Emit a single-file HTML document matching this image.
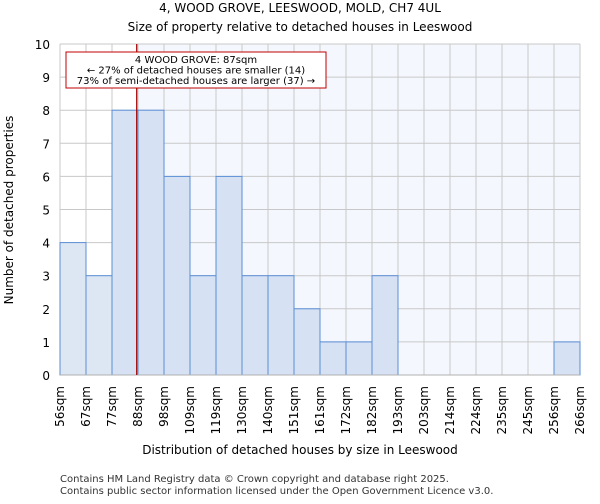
<!DOCTYPE html>
<html><head><meta charset="utf-8"><style>
body{margin:0;background:#fff;font-family:"DejaVu Sans","Liberation Sans",sans-serif;}
</style></head><body>
<svg id="c" width="600" height="500" xmlns="http://www.w3.org/2000/svg" font-family="DejaVu Sans, Liberation Sans, sans-serif">
<text x="300" y="12" text-anchor="middle" font-size="12">4, WOOD GROVE, LEESWOOD, MOLD, CH7 4UL</text>
<text x="300" y="31" text-anchor="middle" font-size="12">Size of property relative to detached houses in Leeswood</text>
<text x="300" y="454" text-anchor="middle" font-size="12">Distribution of detached houses by size in Leeswood</text>
<text transform="translate(13,210) rotate(-90)" text-anchor="middle" font-size="12">Number of detached properties</text>
<text x="60" y="482" font-size="10" fill="#333">Contains HM Land Registry data © Crown copyright and database right 2025.</text>
<text x="60" y="494" font-size="10" fill="#333">Contains public sector information licensed under the Open Government Licence v3.0.</text>
<g id="plot"></g>
</svg>
<script>
const categories=["56sqm","67sqm","77sqm","88sqm","98sqm","109sqm","119sqm","130sqm","140sqm","151sqm","161sqm","172sqm","182sqm","193sqm","203sqm","214sqm","224sqm","235sqm","245sqm","256sqm","266sqm"];
const counts=[4,3,8,8,6,3,6,3,3,2,1,1,3,0,0,0,0,0,0,1];
const yTicks=[0,1,2,3,4,5,6,7,8,9,10];
const markerBin=2.95;
const NS="http://www.w3.org/2000/svg";
const L=60,R=580,T=44,B=375,yMax=10;
const bw=(R-L)/counts.length;
const x=i=>L+i*bw;
const y=v=>B-(B-T)*v/yMax;
const g=document.getElementById('plot');
function mk(t,a){const e=document.createElementNS(NS,t);for(const k in a)e.setAttribute(k,a[k]);g.appendChild(e);return e;}
const mx=x(markerBin);
let e=mk('rect',{x:L,y:T,width:mx-L,height:B-T,fill:'#ffffff'});


e=mk('rect',{x:mx,y:T,width:R-mx,height:B-T,fill:'#f4f7fd'});


yTicks.forEach(v=>{
  e=mk('line',{x1:L,x2:R,y1:y(v),y2:y(v),stroke:'#c8c8c8','stroke-width':1});
  
  
  e=mk('text',{x:L-10,y:y(v)+5,'text-anchor':'end','font-size':12});
  e.textContent=v;
  
  
});
categories.forEach((c,i)=>{
  e=mk('line',{x1:x(i),x2:x(i),y1:T,y2:B,stroke:'#c8c8c8','stroke-width':1});
  
  
});
counts.forEach((v,i)=>{
  if(v<=0)return;
  e=mk('rect',{x:x(i),y:y(v),width:bw,height:B-y(v),fill:(i+1)<=markerBin?'#dde6f3':'#d6e2f3',stroke:'#5b8fd6','stroke-width':1});
  
  
});
categories.forEach((c,i)=>{
  e=mk('text',{transform:`translate(${x(i)+4},386) rotate(-90)`,'text-anchor':'end','font-size':12});
  e.textContent=c;
  
  
});
e=mk('line',{x1:L,x2:R,y1:B,y2:B,stroke:'#b0b0b0'});


e=mk('line',{x1:mx,x2:mx,y1:T,y2:B,stroke:'#a00000','stroke-width':1.2});


e=mk('rect',{x:66,y:52,width:260,height:36,fill:'#fff',stroke:'#c00000','stroke-width':1});


["4 WOOD GROVE: 87sqm","← 27% of detached houses are smaller (14)","73% of semi-detached houses are larger (37) →"].forEach((t,k)=>{
  e=mk('text',{x:196,y:63+k*10.5,'text-anchor':'middle','font-size':10});
  e.textContent=t;
  
  
});
</script>
</body></html>
